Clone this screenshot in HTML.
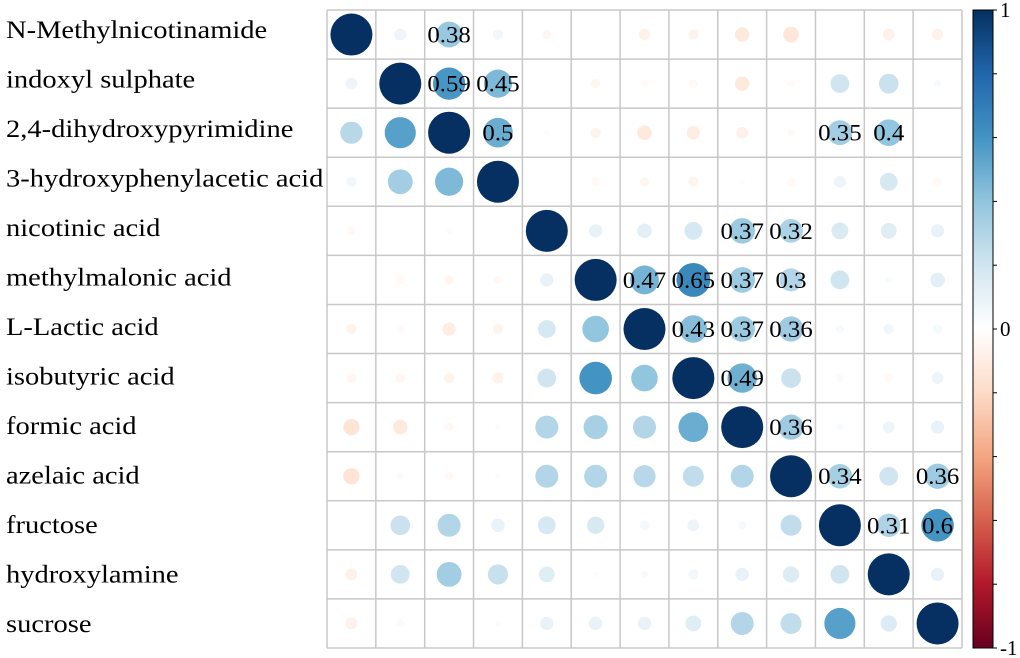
<!DOCTYPE html>
<html><head><meta charset="utf-8"><style>
html,body{margin:0;padding:0;background:#fff;}
svg{display:block;font-family:"Liberation Serif",serif;}
</style></head><body>
<svg id="chart" width="1020" height="658" viewBox="0 0 1020 658"></svg>
<script>
const labels=["N-Methylnicotinamide","indoxyl sulphate","2,4-dihydroxypyrimidine","3-hydroxyphenylacetic acid","nicotinic acid","methylmalonic acid","L-Lactic acid","isobutyric acid","formic acid","azelaic acid","fructose","hydroxylamine","sucrose"];
const row0=[1,0.08,0.38,0.06,-0.05,0,-0.07,-0.06,-0.12,-0.14,0.01,-0.08,-0.07];
const row1=[0.08,1,0.59,0.45,0,-0.05,-0.03,-0.04,-0.12,-0.03,0.2,0.22,0.03];
const row2=[0.28,0.55,1,0.5,0.02,-0.06,-0.12,-0.1,-0.08,-0.03,0.35,0.4,0];
const row3=[0.06,0.35,0.45,1,0,-0.04,-0.05,-0.06,-0.02,-0.04,0.08,0.18,-0.04];
const row4=[-0.04,0,-0.02,0,1,0.1,0.12,0.18,0.37,0.32,0.16,0.14,0.1];
const row5=[0,-0.04,-0.05,-0.04,0.1,1,0.47,0.65,0.37,0.3,0.2,0.03,0.12];
const row6=[-0.06,-0.03,-0.1,-0.06,0.18,0.4,1,0.43,0.37,0.36,0.04,0.06,0.05];
const row7=[-0.05,-0.05,-0.06,-0.07,0.2,0.6,0.4,1,0.49,0.22,0.03,-0.04,0.08];
const row8=[-0.15,-0.12,-0.04,-0.02,0.3,0.33,0.3,0.5,1,0.36,0.03,0.08,0.1];
const row9=[-0.15,-0.03,-0.04,0.02,0.3,0.3,0.28,0.25,0.3,1,0.34,0.2,0.36];
const row10=[0.01,0.22,0.3,0.1,0.18,0.17,0.05,0.08,0.04,0.25,1,0.31,0.6];
const row11=[-0.08,0.2,0.35,0.23,0.14,0.02,0.03,0.06,0.1,0.15,0.2,1,0.1];
const row12=[-0.08,-0.04,0,0.02,0.1,0.1,0.1,0.14,0.3,0.25,0.55,0.15,1];
const matrix=[row0,row1,row2,row3,row4,row5,row6,row7,row8,row9,row10,row11,row12];
// cells with printed values: [row, col]
const printed=[[0,2],[1,2],[1,3],[2,3],[2,10],[2,11],[4,8],[4,9],[5,6],[5,7],[5,8],[5,9],[6,7],[6,8],[6,9],[7,8],[8,9],[9,10],[9,12],[10,11],[10,12]];
const cbTicks=["1","0","-1"];

const NS="http://www.w3.org/2000/svg";
const svg=document.getElementById('chart');
const X0=327,Y0=10,X1=962,Y1=648,n=labels.length;
const cw=(X1-X0)/n,ch=(Y1-Y0)/n,RMAX=21;
const xc=j=>X0+cw*(j+0.5), yc=i=>Y0+ch*(i+0.5);
const stops=["#67001F","#B2182B","#D6604D","#F4A582","#FDDBC7","#FFFFFF","#D1E5F0","#92C5DE","#4393C3","#2166AC","#053061"];
function hex(h){return [1,3,5].map(k=>parseInt(h.substr(k,2),16));}
function color(v){let t=(v+1)/2*10;let k=Math.min(9,Math.floor(t));let f=t-k;const a=hex(stops[k]),b=hex(stops[k+1]);return 'rgb('+a.map((c,i)=>Math.round(c+(b[i]-c)*f)).join(',')+')';}
function mk(tag,attrs){const e=document.createElementNS(NS,tag);for(const k in attrs)e.setAttribute(k,attrs[k]);svg.appendChild(e);return e;}
function stretch(t,f){const w=t.getComputedTextLength();t.setAttribute('textLength',w*f);t.setAttribute('lengthAdjust','spacingAndGlyphs');}

for(let i=0;i<=n;i++){
  const h=mk('line',{x1:X0,x2:X1,y1:Y0+ch*i,y2:Y0+ch*i,stroke:'#c8c8c8','stroke-width':1.5});
  
  
  const v=mk('line',{x1:X0+cw*i,x2:X0+cw*i,y1:Y0,y2:Y1,stroke:'#c8c8c8','stroke-width':1.5});
  
  
}
labels.forEach((l,i)=>{
  const t=mk('text',{x:6,y:30+49.5*i+8,'font-size':25,fill:'#000'});
  t.textContent=l;
  
  
  stretch(t,1.14);
});
matrix.forEach((row,i)=>row.forEach((v,j)=>{
  const r=RMAX*Math.sqrt(Math.abs(v));
  if(r<0.5)return;
  const c=mk('circle',{cx:xc(j),cy:yc(i),r:r,fill:color(v)});
  
  
}));
printed.forEach(([i,j])=>{
  const v=matrix[i][j];
  const t=mk('text',{x:xc(j),y:yc(i)+8,'font-size':23,'text-anchor':'middle',fill:'#000'});
  t.textContent=String(Math.round(v*100)/100);
  
  
  stretch(t,1.08);
});
const defs=mk('defs',{});
const lg=document.createElementNS(NS,'linearGradient');
lg.setAttribute('id','cb');lg.setAttribute('x1','0');lg.setAttribute('y1','1');lg.setAttribute('x2','0');lg.setAttribute('y2','0');
stops.forEach((s,k)=>{const st=document.createElementNS(NS,'stop');st.setAttribute('offset',k/10);st.setAttribute('stop-color',s);lg.appendChild(st);});
defs.appendChild(lg);
const CBX=973,CBW=20;
const cb=mk('rect',{x:CBX,y:Y0,width:CBW,height:Y1-Y0,fill:'url(#cb)',stroke:'#000','stroke-width':1});


for(let k=0;k<=10;k++){
  const y=Y0+(Y1-Y0)*k/10;
  const tk=mk('line',{x1:CBX+CBW,x2:CBX+CBW+4,y1:y,y2:y,stroke:'#000','stroke-width':1});
  
  
}
cbTicks.forEach((s,k)=>{
  const y=Y0+(Y1-Y0)*k/2;
  const t=mk('text',{x:1000,y:y+7,'font-size':21,fill:'#000'});
  t.textContent=s;
  
  
});
</script>
</body></html>
